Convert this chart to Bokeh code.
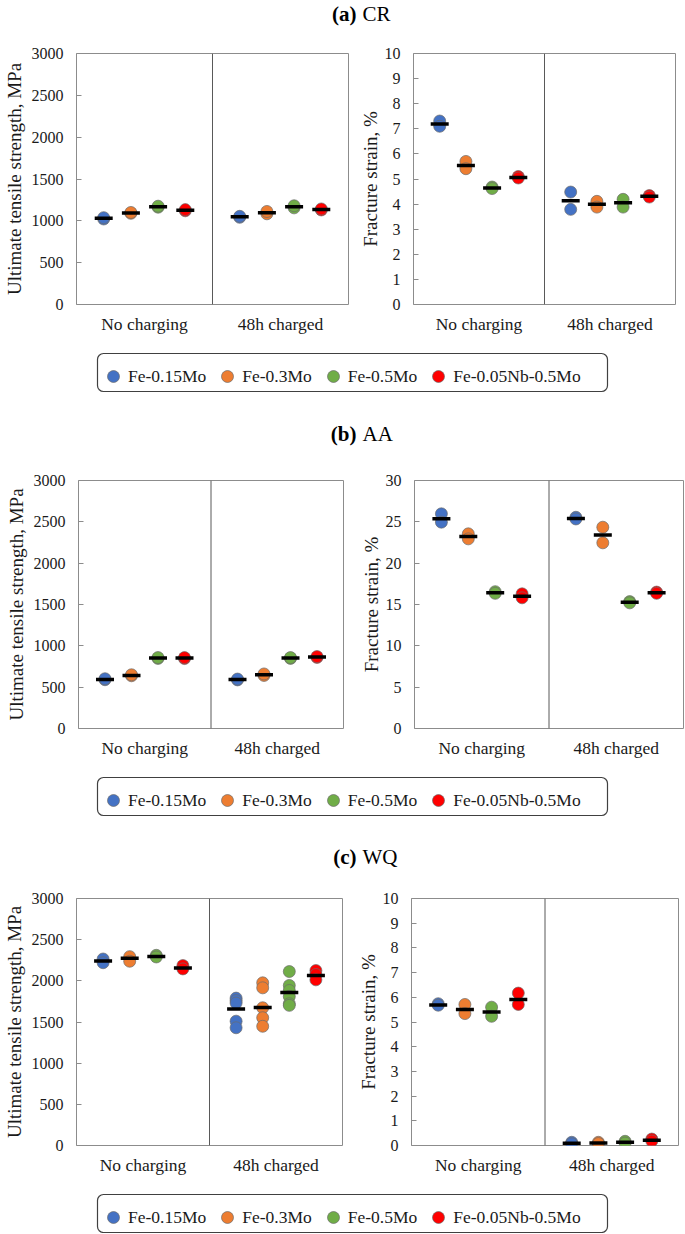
from bokeh.plotting import figure
from bokeh.models import (FactorRange, Range1d, Span, Label, Legend, LegendItem,
                          SingleIntervalTicker, ColumnDataSource)
from bokeh.transform import dodge
from bokeh.layouts import column, row
from bokeh.embed import file_html
from bokeh.resources import INLINE

FONT = "Liberation Serif"

conditions = ["No charging", "48h charged"]
series = ["Fe-0.15Mo", "Fe-0.3Mo", "Fe-0.5Mo", "Fe-0.05Nb-0.5Mo"]
colors = ["#4472C4", "#ED7D31", "#70AD47", "#FF0000"]
offsets = [-0.3, -0.1, 0.1, 0.3]

# (a) CR - ultimate tensile strength, MPa (per series: individual specimens)
cr_uts_nc = [[1022, 1038], [1090, 1100], [1163, 1175], [1120, 1134]]
cr_uts_ch = [[1042, 1054], [1084, 1112], [1155, 1180], [1130, 1142]]
cr_uts_mean_nc = [1030, 1095, 1169, 1127]
cr_uts_mean_ch = [1048, 1098, 1167, 1136]
# (a) CR - fracture strain, %
cr_fs_nc = [[7.31, 7.10], [5.70, 5.41], [4.68, 4.62], [5.10, 5.04]]
cr_fs_ch = [[4.48, 3.79], [4.11, 3.88], [4.19, 3.88], [4.34, 4.28]]
cr_fs_mean_nc = [7.19, 5.54, 4.64, 5.06]
cr_fs_mean_ch = [4.13, 3.99, 4.05, 4.31]

# (b) AA
aa_uts_nc = [[590, 602], [638, 650], [848, 858], [846, 858]]
aa_uts_ch = [[588, 598], [642, 660], [848, 858], [860, 870]]
aa_uts_mean_nc = [594, 642, 853, 852]
aa_uts_mean_ch = [593, 650, 853, 864]
aa_fs_nc = [[25.97, 24.96], [23.55, 22.94], [16.55, 16.35], [16.29, 15.81]]
aa_fs_ch = [[25.55, 25.35], [24.35, 22.46], [15.35, 15.20], [16.50, 16.35]]
aa_fs_mean_nc = [25.36, 23.23, 16.42, 16.00]
aa_fs_mean_ch = [25.40, 23.40, 15.27, 16.42]

# (c) WQ
wq_uts_nc = [[2265, 2220], [2294, 2238], [2310, 2290], [2185, 2145]]
wq_uts_ch = [[1790, 1760, 1730, 1510, 1430], [1976, 1915, 1673, 1552, 1448],
             [2113, 1944, 1883, 1810, 1722, 1702], [2125, 2077, 2012]]
wq_uts_mean_nc = [2240, 2275, 2295, 2157]
wq_uts_mean_ch = [1657, 1677, 1859, 2065]
wq_fs_nc = [[5.74, 5.68], [5.71, 5.34], [5.60, 5.23], [6.17, 5.71]]
wq_fs_ch = [[0.13, 0.07], [0.13, 0.08], [0.17, 0.10], [0.26, 0.18]]
wq_fs_mean_nc = [5.69, 5.51, 5.40, 5.91]
wq_fs_mean_ch = [0.09, 0.10, 0.13, 0.21]

row_titles = [("(a)", "CR"), ("(b)", "AA"), ("(c)", "WQ")]
panel_titles = ["Ultimate tensile strength", "Fracture strain"]
y_labels = ["Ultimate tensile strength, MPa", "Fracture strain, %"]

TOTAL_W = 685
SPLIT = 352
TXT = "#1a1a1a"


def panel(title, ylabel, ymax, ystep, pts_nc, pts_ch, mean_nc, mean_ch,
          width, mbl, mbr, mbt, fh, mbb, title_gap, lab_standoff):
    height = mbt + fh + mbb
    p = figure(x_range=FactorRange(*conditions), y_range=Range1d(0, ymax),
               width=width, height=height,
               min_border_left=mbl, min_border_right=mbr,
               min_border_top=mbt, min_border_bottom=mbb,
               output_backend="svg", toolbar_location=None)
    p.title.visible = False
    p.xgrid.visible = False
    p.ygrid.visible = False
    p.outline_line_color = "#8c8c8c"
    p.outline_line_width = 1
    p.background_fill_color = "white"
    p.border_fill_color = "white"

    p.yaxis.ticker = SingleIntervalTicker(interval=ystep, num_minor_ticks=0)
    p.yaxis.axis_line_color = None
    p.yaxis.major_tick_in = 5
    p.yaxis.major_tick_out = 0
    p.yaxis.major_tick_line_color = "#8c8c8c"
    p.yaxis.minor_tick_line_color = None
    p.yaxis.major_label_standoff = 13
    p.yaxis.major_label_text_font = FONT
    p.yaxis.major_label_text_font_size = "16px"
    p.yaxis.major_label_text_color = TXT
    p.yaxis.axis_label = ylabel
    p.yaxis.axis_label_text_font = FONT
    p.yaxis.axis_label_text_font_size = "19px"
    p.yaxis.axis_label_text_font_style = "normal"
    p.yaxis.axis_label_text_color = TXT
    p.yaxis.axis_label_standoff = lab_standoff

    p.xaxis.axis_line_color = None
    p.xaxis.major_tick_line_color = None
    p.xaxis.major_tick_out = 0
    p.xaxis.major_tick_in = 0
    p.xaxis.major_label_standoff = 9
    p.xaxis.major_label_text_font = FONT
    p.xaxis.major_label_text_font_size = "17.5px"
    p.xaxis.major_label_text_color = TXT

    p.add_layout(Span(location=1, dimension="height", line_color="#595959", line_width=1))

    for i in range(len(series)):
        src = ColumnDataSource(dict(
            x=[conditions[0]] * len(pts_nc[i]) + [conditions[1]] * len(pts_ch[i]),
            y=list(pts_nc[i]) + list(pts_ch[i])))
        p.scatter(x=dodge("x", offsets[i], range=p.x_range), y="y", source=src,
                  marker="circle", size=12, fill_color=colors[i],
                  line_color="#6b6b6b", line_width=0.7)
    for i in range(len(series)):
        msrc = ColumnDataSource(dict(x=conditions, y=[mean_nc[i], mean_ch[i]]))
        p.scatter(x=dodge("x", offsets[i], range=p.x_range), y="y", source=msrc,
                  marker="dash", size=18, line_color="black", line_width=3.5)

    p.add_layout(Label(x=(width - mbl - mbr) / 2, y=fh + title_gap, x_units="screen", y_units="screen",
                       text=title, text_align="center", text_baseline="middle",
                       text_font=FONT, text_font_size="19px", text_color=TXT))
    return p


def blank(h):
    f = figure(width=TOTAL_W, height=h, x_range=Range1d(0, TOTAL_W), y_range=Range1d(0, h),
               min_border=0, x_axis_location=None, y_axis_location=None,
               output_backend="svg", toolbar_location=None)
    f.title.visible = False
    f.xgrid.visible = False
    f.ygrid.visible = False
    f.outline_line_color = None
    return f


def title_fig(h, yc, bold, rest):
    f = blank(h)
    c = 356
    f.add_layout(Label(x=c, y=yc, x_units="screen", y_units="screen", text=bold,
                       text_align="right", text_baseline="middle", text_font=FONT,
                       text_font_size="21px", text_font_style="bold", text_color="black"))
    f.add_layout(Label(x=c + 6, y=yc, x_units="screen", y_units="screen", text=rest,
                       text_align="left", text_baseline="middle", text_font=FONT,
                       text_font_size="21px", text_color="black"))
    return f


def legend_fig(h, bottom):
    f = blank(h)
    f.quad(left=[97], right=[607], bottom=[bottom], top=[bottom + 38], fill_color="white",
           line_color="#404040", line_width=1.2, border_radius=6)
    # legend proxies, placed outside the visible range
    rs = [f.scatter(x=[-100], y=[-100], marker="circle", fill_color=c, line_color="#6b6b6b",
                    line_width=0.7) for c in colors]
    leg = Legend(items=[LegendItem(label=s, renderers=[r]) for s, r in zip(series, rs)],
                 location=(98, bottom), orientation="horizontal",
                 glyph_width=30, glyph_height=30, label_standoff=0, spacing=6,
                 padding=4, margin=0, border_line_color=None, background_fill_alpha=0,
                 label_text_font=FONT, label_text_font_size="17.5px", label_text_color=TXT)
    f.add_layout(leg)
    return f


rows_cfg = [
    dict(tf_h=27, tf_y=14, mbt=26, fh=251, mbb=34, gap=15,
         L=(75, 4), R=(61, 10), leg_h=58, leg_b=5,
         uts=(cr_uts_nc, cr_uts_ch, cr_uts_mean_nc, cr_uts_mean_ch),
         fs=(cr_fs_nc, cr_fs_ch, cr_fs_mean_nc, cr_fs_mean_ch), fs_max=10, fs_step=1),
    dict(tf_h=52, tf_y=15, mbt=32, fh=248, mbb=34, gap=18,
         L=(78, 9), R=(62, 2), leg_h=58, leg_b=5,
         uts=(aa_uts_nc, aa_uts_ch, aa_uts_mean_nc, aa_uts_mean_ch),
         fs=(aa_fs_nc, aa_fs_ch, aa_fs_mean_nc, aa_fs_mean_ch), fs_max=30, fs_step=5),
    dict(tf_h=49, tf_y=13, mbt=29, fh=247, mbb=34, gap=18,
         L=(73, 10), R=(59, 7), leg_h=54, leg_b=1,
         uts=(wq_uts_nc, wq_uts_ch, wq_uts_mean_nc, wq_uts_mean_ch),
         fs=(wq_fs_nc, wq_fs_ch, wq_fs_mean_nc, wq_fs_mean_ch), fs_max=10, fs_step=1),
]

children = []
for k, cfg in enumerate(rows_cfg):
    children.append(title_fig(cfg["tf_h"], cfg["tf_y"], *row_titles[k]))
    pl = panel(panel_titles[0], y_labels[0], 3000, 500, *cfg["uts"],
               SPLIT, cfg["L"][0], cfg["L"][1], cfg["mbt"], cfg["fh"], cfg["mbb"], cfg["gap"], 4)
    pr = panel(panel_titles[1], y_labels[1], cfg["fs_max"], cfg["fs_step"], *cfg["fs"],
               TOTAL_W - SPLIT, cfg["R"][0], cfg["R"][1], cfg["mbt"], cfg["fh"], cfg["mbb"], cfg["gap"], 1)
    children.append(row(pl, pr))
    children.append(legend_fig(cfg["leg_h"], cfg["leg_b"]))

p = column(*children)
open("out.html", "w").write(file_html(p, INLINE))
